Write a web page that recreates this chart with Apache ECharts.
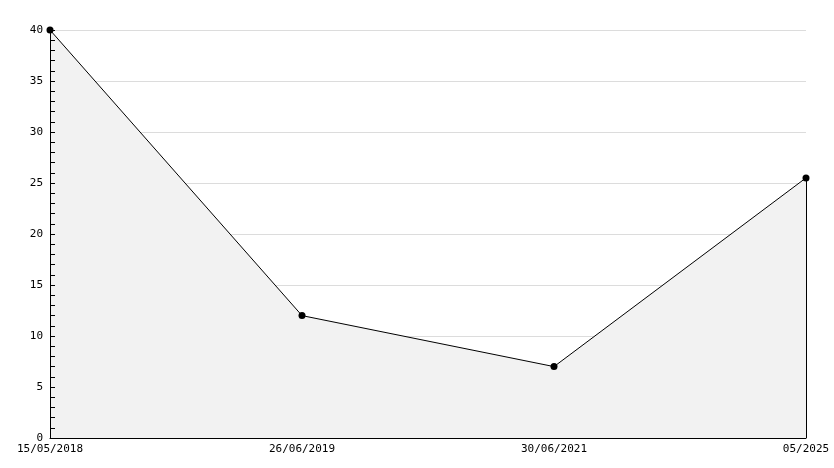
<!DOCTYPE html>
<html><head><meta charset="utf-8">
<script src="https://cdn.jsdelivr.net/npm/echarts@6/dist/echarts.min.js"></script>
<style>html,body{margin:0;padding:0;background:#fff}#c{width:834px;height:468px}</style>
</head><body><div id="c"></div>
<script>
const categories = ['15/05/2018', '26/06/2019', '30/06/2021', '05/2025'];
const values = [40, 12, 7, 25.5];
const yTicks = { min: 0, max: 40, interval: 5 };

const chart = echarts.init(document.getElementById('c'), null, { renderer: 'canvas' });
const font = { fontFamily: 'DejaVu Sans Mono', fontSize: 11, color: '#000' };
const lastIdx = categories.length - 1;
chart.setOption({
  animation: false,
  backgroundColor: '#fff',
  grid: { left: 50, right: 28, top: 30, bottom: 30, containLabel: false },
  xAxis: {
    type: 'category', data: categories, boundaryGap: false, z: 5,
    axisLine: { lineStyle: { color: '#000', width: 1 } },
    axisTick: { show: false },
    axisLabel: Object.assign({ margin: 6, interval: 0 }, font),
    splitLine: { show: false }
  },
  yAxis: [{
    type: 'value', min: yTicks.min, max: yTicks.max, interval: yTicks.interval, z: 0,
    axisLine: { show: false },
    axisTick: { show: false },
    axisLabel: Object.assign({ margin: 7 }, font),
    splitLine: { show: true, lineStyle: { color: '#dcdcdc', width: 1 } }
  }, {
    type: 'value', position: 'left', min: yTicks.min, max: yTicks.max, interval: yTicks.interval, z: 5,
    axisLine: { show: true, onZero: false, lineStyle: { color: '#000', width: 1 } },
    axisTick: { show: true, inside: true, length: 5, lineStyle: { color: '#000' } },
    minorTick: { show: true, splitNumber: 5, length: 5, lineStyle: { color: '#000' } },
    axisLabel: { show: false },
    splitLine: { show: false }
  }],
  series: [{
    type: 'line', data: values, yAxisIndex: 0,
    symbol: 'circle', symbolSize: 7,
    itemStyle: { color: '#000' },
    lineStyle: { color: '#000', width: 1 },
    areaStyle: { color: '#f2f2f2', opacity: 1 },
    markLine: {
      silent: true, symbol: 'none', label: { show: false },
      lineStyle: { color: '#000', width: 1, type: 'solid' },
      data: [[{ coord: [categories[lastIdx], 0] }, { coord: [categories[lastIdx], values[lastIdx]] }]]
    },
    z: 2
  }]
});
</script></body></html>
